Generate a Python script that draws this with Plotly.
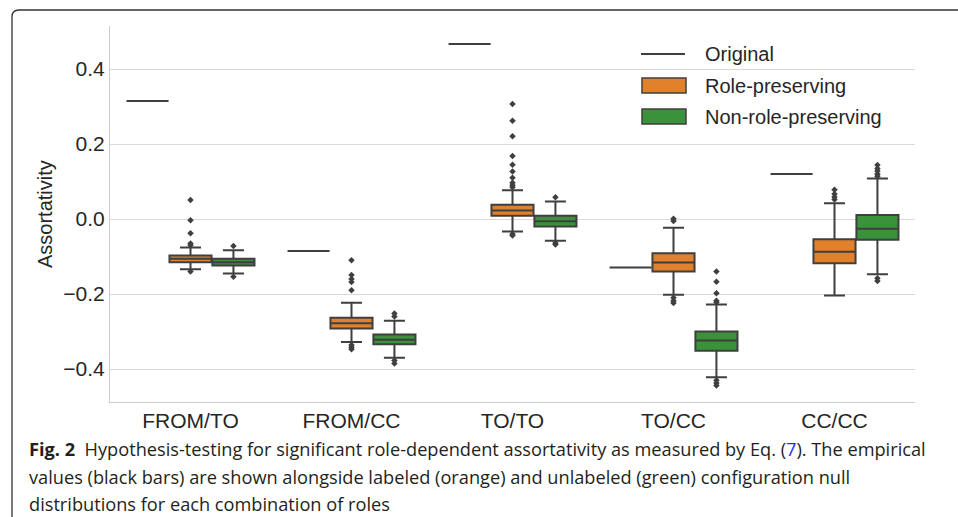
import plotly.graph_objects as go

categories = ["FROM/TO", "FROM/CC", "TO/TO", "TO/CC", "CC/CC"]
original = [0.315, -0.085, 0.467, -0.129, 0.120]

role_q1 = [-0.115, -0.292, 0.009, -0.140, -0.118]
role_med = [-0.106, -0.278, 0.023, -0.116, -0.087]
role_q3 = [-0.097, -0.263, 0.038, -0.091, -0.054]
role_lo = [-0.134, -0.328, -0.033, -0.202, -0.204]
role_hi = [-0.076, -0.223, 0.077, -0.023, 0.042]
role_out = [
    [0.051, -0.003, -0.038, -0.065, -0.070, -0.140],
    [-0.110, -0.149, -0.160, -0.168, -0.190, -0.336, -0.342, -0.347],
    [0.307, 0.262, 0.221, 0.168, 0.145, 0.127, 0.110, 0.097, 0.090, 0.085, -0.040, -0.044],
    [0.001, -0.005, -0.210, -0.218, -0.224],
    [0.078, 0.067, 0.059, 0.052],
]

non_q1 = [-0.124, -0.334, -0.020, -0.351, -0.055]
non_med = [-0.115, -0.322, -0.006, -0.324, -0.026]
non_q3 = [-0.106, -0.308, 0.009, -0.300, 0.011]
non_lo = [-0.145, -0.370, -0.058, -0.422, -0.147]
non_hi = [-0.083, -0.271, 0.047, -0.228, 0.108]
non_out = [
    [-0.072, -0.154],
    [-0.252, -0.260, -0.377, -0.385],
    [0.058, -0.064, -0.068],
    [-0.140, -0.167, -0.198, -0.218, -0.222, -0.430, -0.437, -0.444],
    [0.144, 0.135, 0.128, 0.120, 0.114, -0.158, -0.165],
]

y_ticks = [-0.4, -0.2, 0.0, 0.2, 0.4]

series_names = ["Original", "Role-preserving", "Non-role-preserving"]
ORANGE = "#e1812c"
GREEN = "#3a923a"
EDGE = "#3f3f3f"
TEXT = "#262626"

HUE_W = 0.8 / 3
offsets = [-HUE_W, 0.0, HUE_W]
idx = list(range(len(categories)))

fig = go.Figure()


def add_box(off, q1, med, q3, lo, hi, fill, name):
    fig.add_trace(go.Box(
        x=[i + off for i in idx], q1=q1, median=med, q3=q3,
        lowerfence=lo, upperfence=hi, width=HUE_W * 0.98,
        fillcolor=fill, line=dict(color=EDGE, width=2), whiskerwidth=0.5,
        boxpoints=False, name=name, showlegend=False, hoverinfo="skip",
    ))


add_box(offsets[0], original, original, original, original, original, "rgba(0,0,0,0)", series_names[0])
add_box(offsets[1], role_q1, role_med, role_q3, role_lo, role_hi, ORANGE, series_names[1])
add_box(offsets[2], non_q1, non_med, non_q3, non_lo, non_hi, GREEN, series_names[2])


def add_outliers(off, outs):
    xs, ys = [], []
    for i, vals in enumerate(outs):
        for v in vals:
            xs.append(i + off)
            ys.append(v)
    fig.add_trace(go.Scatter(
        x=xs, y=ys, mode="markers", showlegend=False, hoverinfo="skip",
        marker=dict(symbol="diamond", size=5, color=EDGE, line=dict(width=0)),
    ))


add_outliers(offsets[1], role_out)
add_outliers(offsets[2], non_out)

W, H = 958, 517
L, R, T, B = 110, 43, 26, 115
PW, PH = W - L - R, H - T - B


def px(xp):
    return (xp - L) / PW


def py(yp):
    return (H - B - yp) / PH


FONT = "Liberation Sans, Arial, sans-serif"

shapes = []
annotations = []

# custom legend
shapes.append(dict(type="line", xref="paper", yref="paper", x0=px(641), x1=px(685),
                   y0=py(54), y1=py(54), line=dict(color=EDGE, width=2)))
shapes.append(dict(type="rect", xref="paper", yref="paper", x0=px(642), x1=px(686),
                   y0=py(93), y1=py(78), fillcolor=ORANGE, line=dict(color=EDGE, width=1.5)))
shapes.append(dict(type="rect", xref="paper", yref="paper", x0=px(642), x1=px(686),
                   y0=py(124), y1=py(109), fillcolor=GREEN, line=dict(color=EDGE, width=1.5)))
for name, yc in zip(series_names, [54, 86, 117]):
    annotations.append(dict(xref="paper", yref="paper", x=px(703), y=py(yc), text=name,
                            showarrow=False, xanchor="left", yanchor="middle",
                            font=dict(family=FONT, size=20, color=TEXT)))

# y axis title
annotations.append(dict(xref="paper", yref="paper", x=px(45), y=0.5, text="Assortativity",
                        textangle=-90, showarrow=False, xanchor="center", yanchor="middle",
                        font=dict(family=FONT, size=20, color=TEXT)))

# figure frame (rounded top-left corner)
r = 7
x0, y0 = 12, 10
path = (f"M {px(x0)} {py(H + 5)} L {px(x0)} {py(y0 + r)} "
        f"Q {px(x0)} {py(y0)} {px(x0 + r)} {py(y0)} L {px(W + 5)} {py(y0)}")
shapes.append(dict(type="path", xref="paper", yref="paper", path=path,
                   line=dict(color="#333333", width=1.3)))

# caption
CAP_FONT = "Open Sans, Noto Sans, sans-serif"
cap_lines = [
    "<b>Fig. 2</b>  Hypothesis-testing for significant role-dependent assortativity as measured by Eq. "
    "(<span style='color:#2a2aff'>7</span>). The empirical",
    "values (black bars) are shown alongside labeled (orange) and unlabeled (green) configuration null",
    "distributions for each combination of roles",
]
for line, yc in zip(cap_lines, [449, 477, 504]):
    annotations.append(dict(xref="paper", yref="paper", x=px(27), y=py(yc), text=line,
                            showarrow=False, xanchor="left", yanchor="middle",
                            font=dict(family=CAP_FONT, size=18.2, color="#231f20")))

fig.update_layout(
    width=W, height=H, margin=dict(l=L, r=R, t=T, b=B),
    paper_bgcolor="white", plot_bgcolor="white",
    showlegend=False, boxmode="overlay",
    shapes=shapes, annotations=annotations,
    font=dict(family=FONT, color=TEXT),
)
fig.update_xaxes(
    range=[-0.5, 4.5], tickmode="array", tickvals=idx, ticktext=categories,
    showgrid=False, zeroline=False, showline=True, linecolor="#cccccc", linewidth=1.25,
    ticks="", tickfont=dict(family=FONT, size=21, color=TEXT),
)
fig.update_yaxes(
    range=[-0.488, 0.515], tickmode="array", tickvals=y_ticks,
    ticktext=[("\u2212" if v < 0 else "") + f"{abs(v):.1f}" for v in y_ticks],
    showgrid=True, gridcolor="#d9d9d9", gridwidth=1.25, zeroline=False,
    showline=True, linecolor="#cccccc", linewidth=1.25,
    ticks="", tickfont=dict(family=FONT, size=21, color=TEXT),
)

fig.write_html("out.html", config={"displayModeBar": False},
               post_script="document.body.style.margin='0';")
